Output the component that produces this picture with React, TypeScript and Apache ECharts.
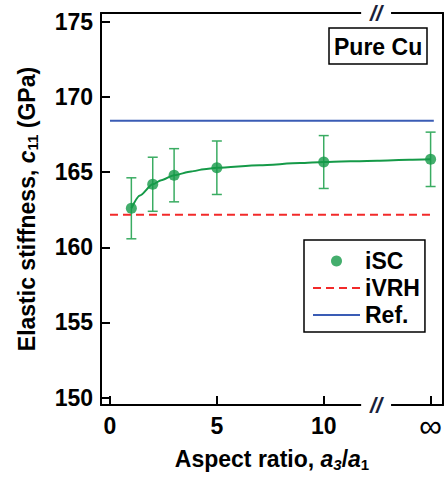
import React, { useEffect, useRef } from "react";
import * as echarts from "echarts";

// ---- data ----
const aspectRatios = [1, 2, 3, 5, 10, 15]; // 15 = position of "∞"
const iscValues = [162.6, 164.2, 164.8, 165.3, 165.68, 165.86];
const iscErrors = [2.03, 1.8, 1.77, 1.78, 1.76, 1.81];
// fitted curve
const fitX = [1, 1.4, 2, 2.4, 3, 3.8, 4.4, 5, 7, 8.9, 10, 12.5, 14, 15];
const fitValues = [162.6, 163.45, 164.2, 164.47, 164.8, 165.05, 165.2, 165.3, 165.47, 165.61, 165.68, 165.77, 165.83, 165.86];
const ivrhValue = 162.17;
const refValue = 168.42;
const refSpan = [0, 15.15];
const xTicks = [0, 5, 10, 15];
const xTickLabels = ["0", "5", "10", "{inf|∞}"];
const yTicks = [150, 155, 160, 165, 170, 175];
const xRange = [-0.42, 15.58];
const yRange = [149.5, 175.6];
const breakGap = [11.75, 13.15];

const FONT = "'Liberation Sans', Arial, sans-serif";
const GREEN = "#159a48";
const GREEN_LIGHT = "#3aac62";

export default function App() {
  const ref = useRef<HTMLDivElement>(null);
  useEffect(() => {
    if (!ref.current) return;
    const chart = echarts.init(ref.current, undefined, { renderer: "svg" });
    const labelStyle = { fontSize: 23, fontWeight: "bold" as const, color: "#000", fontFamily: FONT };
    const hidden = { color: "transparent", borderColor: "transparent", borderWidth: 0, opacity: 0 };
    const option: any = {
      animation: false,
      grid: { left: 101, top: 13, right: 3, bottom: 68 },
      title: {
        text: "Pure Cu",
        left: 329,
        top: 28,
        borderColor: "#000",
        borderWidth: 1.5,
        padding: [7, 5, 6, 5],
        textStyle: { ...labelStyle },
      },
      legend: {
        left: 304,
        top: 240,
        orient: "vertical",
        padding: [9, 5, 5, 8],
        borderColor: "#000",
        borderWidth: 1.5,
        itemWidth: 47,
        itemHeight: 11,
        itemGap: 3,
        textStyle: { ...labelStyle, lineHeight: 24 },
        data: [
          { name: "iSC" },
          { name: "iVRH", itemStyle: hidden },
          { name: "Ref.", itemStyle: hidden },
        ],
      },
      xAxis: [
        {
          type: "value",
          position: "bottom",
          min: xRange[0],
          max: xRange[1],
          axisLine: { onZero: false, lineStyle: { color: "#000", width: 2 } },
          axisTick: { inside: true, length: 9, customValues: xTicks, lineStyle: { width: 2, color: "#000" } },
          axisLabel: {
            ...labelStyle,
            margin: 9,
            customValues: xTicks,
            formatter: (v: number) => xTickLabels[xTicks.indexOf(v)] ?? "",
            rich: {
              inf: { fontSize: 32, fontWeight: "normal", color: "#000", fontFamily: FONT, lineHeight: 24 },
            },
          },
          splitLine: { show: false },
          name: "Aspect ratio, {i|a}{si|3}/{i|a}{s|1}",
          nameLocation: "middle",
          nameGap: 39,
          nameTextStyle: {
            ...labelStyle,
            rich: {
              i: { ...labelStyle, fontStyle: "italic" },
              si: { fontSize: 15, fontWeight: "bold", fontStyle: "italic", color: "#000", fontFamily: FONT, padding: [12, 0, 0, 0] },
              s: { fontSize: 15, fontWeight: "bold", color: "#000", fontFamily: FONT, padding: [12, 0, 0, 0] },
            },
          },
        },
        {
          type: "value",
          position: "top",
          min: xRange[0],
          max: xRange[1],
          axisLine: { onZero: false, lineStyle: { color: "#000", width: 2 } },
          axisTick: { show: false },
          axisLabel: { show: false },
          splitLine: { show: false },
        },
      ],
      yAxis: [
        {
          type: "value",
          position: "left",
          min: yRange[0],
          max: yRange[1],
          axisLine: { show: true, onZero: false, lineStyle: { color: "#000", width: 2 } },
          axisTick: { show: true, inside: true, length: 9, customValues: yTicks, lineStyle: { width: 2, color: "#000" } },
          axisLabel: { ...labelStyle, margin: 8, customValues: yTicks },
          splitLine: { show: false },
          name: "Elastic stiffness, {i|c}{s|11} (GPa)",
          nameLocation: "middle",
          nameGap: 61,
          nameTextStyle: {
            ...labelStyle,
            rich: {
              i: { ...labelStyle, fontStyle: "italic" },
              s: { fontSize: 15, fontWeight: "bold", color: "#000", fontFamily: FONT, padding: [12, 0, 0, 0] },
            },
          },
        },
        {
          type: "value",
          position: "right",
          min: yRange[0],
          max: yRange[1],
          axisLine: { show: true, onZero: false, lineStyle: { color: "#000", width: 2 } },
          axisTick: { show: false },
          axisLabel: { show: false },
          splitLine: { show: false },
        },
      ],
      series: [
        {
          name: "Ref.",
          type: "line",
          data: refSpan.map((x) => [x, refValue]),
          symbol: "none",
          lineStyle: { color: "#3a5cb5", width: 2 },
          itemStyle: { color: "#3a5cb5" },
        },
        {
          name: "iVRH",
          type: "line",
          data: refSpan.map((x) => [x, ivrhValue]),
          symbol: "none",
          lineStyle: { color: "#f22a2a", width: 2, type: [8, 5] },
          itemStyle: { color: "#f22a2a" },
        },
        {
          name: "fit",
          type: "line",
          data: fitX.map((x, i) => [x, fitValues[i]]),
          symbol: "none",
          smooth: 0.25,
          smoothMonotone: "x",
          lineStyle: { color: GREEN, width: 2 },
        },
        {
          name: "errors",
          type: "custom",
          data: aspectRatios.map((x, i) => [x, iscValues[i] - iscErrors[i], iscValues[i] + iscErrors[i]]),
          renderItem: (_p: any, api: any) => {
            const x = api.value(0);
            const lo = api.coord([x, api.value(1)]);
            const hi = api.coord([x, api.value(2)]);
            const hw = 5;
            const st = { stroke: GREEN_LIGHT, lineWidth: 1.5 };
            return {
              type: "group",
              children: [
                { type: "line", shape: { x1: lo[0], y1: lo[1], x2: hi[0], y2: hi[1] }, style: st },
                { type: "line", shape: { x1: lo[0] - hw, y1: lo[1], x2: lo[0] + hw, y2: lo[1] }, style: st },
                { type: "line", shape: { x1: hi[0] - hw, y1: hi[1], x2: hi[0] + hw, y2: hi[1] }, style: st },
              ],
            };
          },
          z: 3,
        },
        {
          name: "iSC",
          type: "scatter",
          data: aspectRatios.map((x, i) => [x, iscValues[i]]),
          symbol: "circle",
          symbolSize: 11,
          itemStyle: { color: GREEN },
          z: 5,
        },
      ],
    };
    chart.setOption(option);

    // axis break marks on the top and bottom frame lines
    const g0 = chart.convertToPixel({ xAxisIndex: 0 }, breakGap[0]) as number;
    const g1 = chart.convertToPixel({ xAxisIndex: 0 }, breakGap[1]) as number;
    const yTop = chart.convertToPixel({ yAxisIndex: 0 }, yRange[1]) as number;
    const yBot = chart.convertToPixel({ yAxisIndex: 0 }, yRange[0]) as number;
    const mk = (y: number) => [
      { type: "rect", shape: { x: g0, y: y - 3, width: g1 - g0, height: 6 }, style: { fill: "#fff" }, z: 100 },
      {
        type: "text",
        x: (g0 + g1) / 2,
        y,
        style: { text: "//", fontSize: 22, fontWeight: "bold", fontStyle: "italic", fill: "#1b1f3a", fontFamily: FONT, align: "center", verticalAlign: "middle" },
        z: 101,
      },
    ];
    chart.setOption({ graphic: [...mk(yTop), ...mk(yBot)] });

    return () => chart.dispose();
  }, []);
  return <div ref={ref} style={{ position: "absolute", left: 0, top: 0, width: 446, height: 477 }} />;
}
